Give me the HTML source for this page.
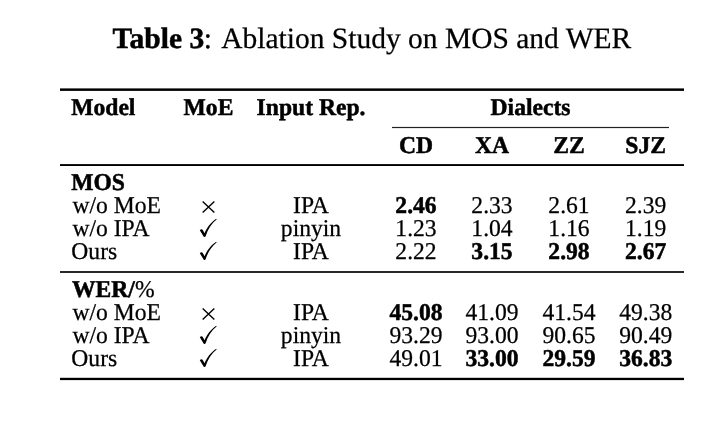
<!DOCTYPE html>
<html><head><meta charset="utf-8"><title>Table 3: Ablation Study on MOS and WER</title>
<style>
html,body{margin:0;padding:0;background:#fff;width:710px;height:432px;overflow:hidden}
svg{display:block;will-change:transform;text-rendering:geometricPrecision;filter:blur(0.3px)}
text{font-family:"Liberation Serif", "Times New Roman", serif;font-size:23.6px;fill:#000;stroke:#000;stroke-width:0.25px;}
[font-weight=bold]{stroke-width:0.5px}
</style></head>
<body>
<svg width="710" height="432" viewBox="0 0 710 432">
<rect x="60" y="88.4" width="624" height="2.5" fill="#000"/>
<rect x="392" y="126.9" width="277" height="1.2" fill="#222"/>
<rect x="60" y="164.1" width="624" height="1.9" fill="#000"/>
<rect x="60" y="271.1" width="624" height="1.8" fill="#111"/>
<rect x="60" y="377.8" width="624" height="2.3" fill="#000"/>
<path d="M202.65 201.45L214.35 212.45M214.35 201.45L202.65 212.45" stroke="#000" stroke-width="1.4" fill="none"/>
<path transform="translate(0 0)" d="M199.8 230.2C200.5 229.2 202 228.8 202.6 229.8L204.6 233.2C206.5 228.5 210.5 222.5 216.2 218.8L216.6 219.6C211.5 223.5 207.8 229.5 205.6 236.2C205.3 237 204 237.2 203.6 236.4Z" fill="#000"/>
<path transform="translate(0 23)" d="M199.8 230.2C200.5 229.2 202 228.8 202.6 229.8L204.6 233.2C206.5 228.5 210.5 222.5 216.2 218.8L216.6 219.6C211.5 223.5 207.8 229.5 205.6 236.2C205.3 237 204 237.2 203.6 236.4Z" fill="#000"/>
<path d="M202.65 308.45L214.35 319.45M214.35 308.45L202.65 319.45" stroke="#000" stroke-width="1.4" fill="none"/>
<path transform="translate(0 107)" d="M199.8 230.2C200.5 229.2 202 228.8 202.6 229.8L204.6 233.2C206.5 228.5 210.5 222.5 216.2 218.8L216.6 219.6C211.5 223.5 207.8 229.5 205.6 236.2C205.3 237 204 237.2 203.6 236.4Z" fill="#000"/>
<path transform="translate(0 130)" d="M199.8 230.2C200.5 229.2 202 228.8 202.6 229.8L204.6 233.2C206.5 228.5 210.5 222.5 216.2 218.8L216.6 219.6C211.5 223.5 207.8 229.5 205.6 236.2C205.3 237 204 237.2 203.6 236.4Z" fill="#000"/>
<g transform="scale(1 1.0)">
<text x="112.6" y="48.000" font-weight="bold" style="font-size:29.5px">Table 3</text>
<text x="203.7" y="48.000" style="font-size:29.5px">:</text>
<text x="221.2" y="48.000" style="font-size:29.5px">Ablation Study on MOS and WER</text>
</g>
<g transform="scale(1 1.02)">
<text x="71.2" y="112.745" font-weight="bold">Model</text>
<text x="208.5" y="112.745" font-weight="bold" text-anchor="middle">MoE</text>
<text x="311" y="112.745" font-weight="bold" text-anchor="middle">Input Rep.</text>
<text x="530.5" y="112.745" font-weight="bold" text-anchor="middle">Dialects</text>
<text x="416" y="150.000" font-weight="bold" text-anchor="middle">CD</text>
<text x="492" y="150.000" font-weight="bold" text-anchor="middle">XA</text>
<text x="569" y="150.000" font-weight="bold" text-anchor="middle">ZZ</text>
<text x="645.7" y="150.000" font-weight="bold" text-anchor="middle">SJZ</text>
<text x="71.2" y="186.275" font-weight="bold">MOS</text>
<text x="72.4" y="208.824">w/o MoE</text>
<text x="311" y="208.824" text-anchor="middle">IPA</text>
<text x="416" y="208.824" font-weight="bold" text-anchor="middle">2.46</text>
<text x="492" y="208.824" text-anchor="middle">2.33</text>
<text x="569" y="208.824" text-anchor="middle">2.61</text>
<text x="645.7" y="208.824" text-anchor="middle">2.39</text>
<text x="72.4" y="231.373">w/o IPA</text>
<text x="311" y="231.373" text-anchor="middle">pinyin</text>
<text x="416" y="231.373" text-anchor="middle">1.23</text>
<text x="492" y="231.373" text-anchor="middle">1.04</text>
<text x="569" y="231.373" text-anchor="middle">1.16</text>
<text x="645.7" y="231.373" text-anchor="middle">1.19</text>
<text x="71.3" y="253.922">Ours</text>
<text x="311" y="253.922" text-anchor="middle">IPA</text>
<text x="416" y="253.922" text-anchor="middle">2.22</text>
<text x="492" y="253.922" font-weight="bold" text-anchor="middle">3.15</text>
<text x="569" y="253.922" font-weight="bold" text-anchor="middle">2.98</text>
<text x="645.7" y="253.922" font-weight="bold" text-anchor="middle">2.67</text>
<text x="72.0" y="291.176"><tspan font-weight="bold">WER/</tspan>%</text>
<text x="72.4" y="313.725">w/o MoE</text>
<text x="311" y="313.725" text-anchor="middle">IPA</text>
<text x="416" y="313.725" font-weight="bold" text-anchor="middle">45.08</text>
<text x="492" y="313.725" text-anchor="middle">41.09</text>
<text x="569" y="313.725" text-anchor="middle">41.54</text>
<text x="645.7" y="313.725" text-anchor="middle">49.38</text>
<text x="72.4" y="336.275">w/o IPA</text>
<text x="311" y="336.275" text-anchor="middle">pinyin</text>
<text x="416" y="336.275" text-anchor="middle">93.29</text>
<text x="492" y="336.275" text-anchor="middle">93.00</text>
<text x="569" y="336.275" text-anchor="middle">90.65</text>
<text x="645.7" y="336.275" text-anchor="middle">90.49</text>
<text x="71.3" y="358.824">Ours</text>
<text x="311" y="358.824" text-anchor="middle">IPA</text>
<text x="416" y="358.824" text-anchor="middle">49.01</text>
<text x="492" y="358.824" font-weight="bold" text-anchor="middle">33.00</text>
<text x="569" y="358.824" font-weight="bold" text-anchor="middle">29.59</text>
<text x="645.7" y="358.824" font-weight="bold" text-anchor="middle">36.83</text>
</g>
</svg>
</body></html>
